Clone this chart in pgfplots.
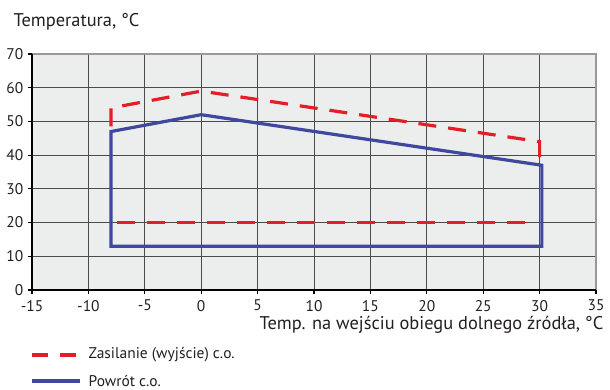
\documentclass[border=0pt]{standalone}
\usepackage{pgfplots}
\pgfplotsset{compat=1.18}
\usepackage{fontspec}
\setmainfont{PT Sans}
\definecolor{zasil}{RGB}{228,30,38}
\definecolor{powrot}{RGB}{63,72,158}
\definecolor{plotbg}{RGB}{236,238,237}
\definecolor{gridc}{RGB}{75,75,75}
\definecolor{txt}{RGB}{35,31,32}
\begin{document}
\begin{tikzpicture}[x=0.75pt,y=0.75pt,font=\fontsize{11.6pt}{13pt}\selectfont,color=txt]
\path[use as bounding box] (-32,-99) rectangle (578,290);
\begin{axis}[
  at={(0,0)}, anchor=south west,
  scale only axis, width=423pt, height=177pt,
  xmin=-15, xmax=35, ymin=0, ymax=70,
  xtick={-15,-10,...,35}, ytick={0,10,...,70},
  /pgf/number format/assume math mode=true,
  ticklabel style={font=\fontsize{11.6pt}{13pt}\selectfont, text=txt},
  grid=major,
  major grid style={gridc, line width=0.75pt},
  axis background/.style={fill=plotbg},
  axis line style={draw=none},
  tick style={black, line width=0.8pt},
  tick align=outside, major tick length=3pt,
  xtick pos=bottom, ytick pos=left,
  yticklabel style={xshift=0pt},
  xticklabel style={yshift=-1pt},
  clip=false,
]
% frame: gray top/right, black left/bottom
\draw[gray!80, line width=1.6pt] (axis cs:-15,70) -- (axis cs:35,70) -- (axis cs:35,0);
\draw[black, line width=1.6pt] (axis cs:-15,70) -- (axis cs:-15,0) -- (axis cs:35,0);
% return (powrót)
\addplot[powrot, line width=2.4pt, line join=miter] coordinates {
  (-8,13) (-8,47) (0,52) (30.2,37) (30.2,13) (-8,13) } -- cycle;
% supply (zasilanie)
\addplot[zasil, line width=2.4pt, dash pattern=on 13.5pt off 9pt] coordinates {
  (-8,48.5) (-8,54) (0,59) (30,44) (30,38) };
\addplot[zasil, line width=2.4pt, dash pattern=on 13.5pt off 9pt] coordinates {
  (-7.5,20) (29.5,20) };
\end{axis}
% axis titles
\node[anchor=west, font=\fontsize{13.8pt}{15pt}\selectfont] at (-23,268) {Temperatura, °C};
\node[anchor=east, font=\fontsize{13.8pt}{15pt}\selectfont] at (576,-35) {Temp. na wejściu obiegu dolnego źródła, °C};
% legend
\draw[zasil, line width=2.4pt, dash pattern=on 12pt off 9pt] (0,-65) -- (48,-65);
\node[anchor=west] at (52,-65) {Zasilanie (wyjście) c.o.};
\draw[powrot, line width=2.4pt] (0,-91) -- (48,-91);
\node[anchor=west] at (52,-91) {Powrót c.o.};
\end{tikzpicture}
\end{document}
